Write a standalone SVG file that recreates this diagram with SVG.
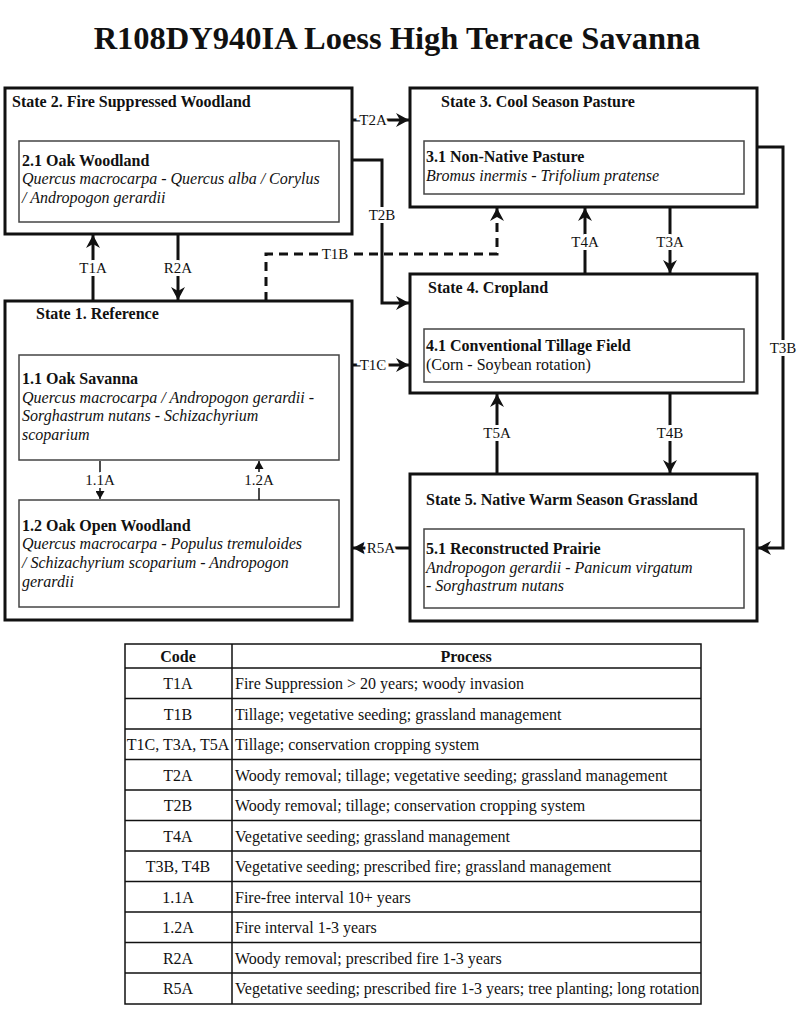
<svg xmlns="http://www.w3.org/2000/svg" width="800" height="1016" viewBox="0 0 800 1016" font-family="'Liberation Serif', 'Times New Roman', serif">
<style>
text{font-family:'Liberation Serif','Times New Roman',serif;fill:#111}
.title{font-size:32.5px;font-weight:bold}
.st{font-size:16px;font-weight:bold}
.ph{font-size:16px;font-weight:bold}
.sp{font-size:16px;font-style:italic}
.nm{font-size:16px}
.outer{fill:#fff;stroke:#111;stroke-width:3}
.inner{fill:#fff;stroke:#444;stroke-width:1.5}
.conn{fill:none;stroke:#111;stroke-width:3}
.dash{stroke-dasharray:9,6}
.thin{fill:none;stroke:#111;stroke-width:1.5}
.lbl{font-size:15px;text-anchor:middle;stroke:#fff;stroke-width:6;paint-order:stroke;fill:#111}
.tb{font-size:16px}
.tbh{font-size:16px;font-weight:bold;text-anchor:middle}
.tc{text-anchor:middle}
.grid{fill:none;stroke:#111;stroke-width:1.5}
</style>
<defs>
<marker id="ah" markerUnits="userSpaceOnUse" markerWidth="14" markerHeight="14" refX="13" refY="7" orient="auto">
<path d="M0,0 L13,7 L0,14 L4,7 z" fill="#111"/>
</marker>
<marker id="as" markerUnits="userSpaceOnUse" markerWidth="9" markerHeight="9" refX="8" refY="4.5" orient="auto">
<path d="M0,0 L8,4.5 L0,9 z" fill="#111"/>
</marker>
</defs>
<rect width="800" height="1016" fill="#fff"/>
<text class="title" x="397" y="49" text-anchor="middle">R108DY940IA Loess High Terrace Savanna</text>

<g id="connectors">
<path class="conn" d="M352,120 H409" marker-end="url(#ah)"/>
<path class="conn" d="M352,160 H382 V303 H409" marker-end="url(#ah)"/>
<path class="conn" d="M93,301 V235" marker-end="url(#ah)"/>
<path class="conn" d="M178,234 V300" marker-end="url(#ah)"/>
<path class="conn dash" d="M266,301 V254 H497 V208" marker-end="url(#ah)"/>
<path class="conn" d="M585,274 V208" marker-end="url(#ah)"/>
<path class="conn" d="M670,207 V273" marker-end="url(#ah)"/>
<path class="conn" d="M757,147 H783 V548 H758" marker-end="url(#ah)"/>
<path class="conn" d="M352,365 H409" marker-end="url(#ah)"/>
<path class="conn" d="M497,474 V394" marker-end="url(#ah)"/>
<path class="conn" d="M670,393 V473" marker-end="url(#ah)"/>
<path class="conn" d="M410,548 H353" marker-end="url(#ah)"/>
<text class="lbl" x="373" y="125">T2A</text>
<text class="lbl" x="382" y="220">T2B</text>
<text class="lbl" x="93" y="273">T1A</text>
<text class="lbl" x="178" y="273">R2A</text>
<text class="lbl" x="335" y="259">T1B</text>
<text class="lbl" x="585" y="247">T4A</text>
<text class="lbl" x="670" y="247">T3A</text>
<text class="lbl" x="783" y="353">T3B</text>
<text class="lbl" x="373" y="370">T1C</text>
<text class="lbl" x="497" y="438">T5A</text>
<text class="lbl" x="670" y="438">T4B</text>
<text class="lbl" x="381" y="553">R5A</text>
</g>

<g id="state2">
<rect class="outer" x="5" y="88" width="347" height="146"/>
<text class="st" x="12" y="107">State 2. Fire Suppressed Woodland</text>
<g id="phase2-1">
<rect class="inner" x="19" y="141" width="320" height="81"/>
<text class="ph" x="22" y="166">2.1 Oak Woodland</text>
<text class="sp" x="22" y="184">Quercus macrocarpa - Quercus alba / Corylus</text>
<text class="sp" x="22" y="203">/ Andropogon gerardii</text>
</g>
</g>

<g id="state3">
<rect class="outer" x="410" y="88" width="347" height="119"/>
<text class="st" x="441" y="107">State 3. Cool Season Pasture</text>
<g id="phase3-1">
<rect class="inner" x="424" y="141" width="320" height="53"/>
<text class="ph" x="426" y="162">3.1 Non-Native Pasture</text>
<text class="sp" x="426" y="181">Bromus inermis - Trifolium pratense</text>
</g>
</g>

<g id="state4">
<rect class="outer" x="410" y="274" width="347" height="119"/>
<text class="st" x="428" y="293">State 4. Cropland</text>
<g id="phase4-1">
<rect class="inner" x="424" y="329" width="320" height="53"/>
<text class="ph" x="426" y="351">4.1 Conventional Tillage Field</text>
<text class="nm" x="426" y="370">(Corn - Soybean rotation)</text>
</g>
</g>

<g id="state5">
<rect class="outer" x="410" y="474" width="347" height="147"/>
<text class="st" x="426" y="505">State 5. Native Warm Season Grassland</text>
<g id="phase5-1">
<rect class="inner" x="424" y="529" width="320" height="79"/>
<text class="ph" x="426" y="554">5.1 Reconstructed Prairie</text>
<text class="sp" x="426" y="573">Andropogon gerardii - Panicum virgatum</text>
<text class="sp" x="426" y="591">- Sorghastrum nutans</text>
</g>
</g>

<g id="state1">
<rect class="outer" x="5" y="301" width="347" height="319"/>
<text class="st" x="36" y="319">State 1. Reference</text>
<g id="phase1-1">
<rect class="inner" x="19" y="355" width="320" height="105"/>
<text class="ph" x="22" y="384">1.1 Oak Savanna</text>
<text class="sp" x="22" y="403">Quercus macrocarpa / Andropogon gerardii -</text>
<text class="sp" x="22" y="421">Sorghastrum nutans - Schizachyrium</text>
<text class="sp" x="22" y="440">scoparium</text>
</g>
<g id="phase1-2">
<rect class="inner" x="19" y="500" width="320" height="107"/>
<text class="ph" x="22" y="531">1.2 Oak Open Woodland</text>
<text class="sp" x="22" y="549">Quercus macrocarpa - Populus tremuloides</text>
<text class="sp" x="22" y="568">/ Schizachyrium scoparium -  Andropogon</text>
<text class="sp" x="22" y="587">gerardii</text>
</g>
<g id="pathways1">
<path class="thin" d="M100,461 V499" marker-end="url(#as)"/>
<path class="thin" d="M259,500 V461" marker-end="url(#as)"/>
<text class="lbl" x="100" y="485">1.1A</text>
<text class="lbl" x="259" y="485">1.2A</text>
</g>
</g>

<g id="legend-table">
<rect class="grid" x="125" y="644" width="576" height="360"/>
<path class="grid" d="M232,644 V1004 M125,668 H701 M125,698.5 H701 M125,729 H701 M125,759.5 H701 M125,790 H701 M125,820.5 H701 M125,851 H701 M125,881.5 H701 M125,912 H701 M125,942.5 H701 M125,973 H701"/>
<text class="tbh" x="178" y="662">Code</text>
<text class="tbh" x="466" y="662">Process</text>
<g class="tb">
<text class="tb tc" x="178" y="689">T1A</text><text class="tb" x="235" y="689">Fire Suppression &gt; 20 years; woody invasion</text>
<text class="tb tc" x="178" y="719.5">T1B</text><text class="tb" x="235" y="719.5">Tillage; vegetative seeding; grassland management</text>
<text class="tb tc" x="178" y="750">T1C, T3A, T5A</text><text class="tb" x="235" y="750">Tillage; conservation cropping system</text>
<text class="tb tc" x="178" y="780.5">T2A</text><text class="tb" x="235" y="780.5">Woody removal; tillage; vegetative seeding; grassland management</text>
<text class="tb tc" x="178" y="811">T2B</text><text class="tb" x="235" y="811">Woody removal; tillage; conservation cropping system</text>
<text class="tb tc" x="178" y="841.5">T4A</text><text class="tb" x="235" y="841.5">Vegetative seeding; grassland management</text>
<text class="tb tc" x="178" y="872">T3B, T4B</text><text class="tb" x="235" y="872">Vegetative seeding; prescribed fire; grassland management</text>
<text class="tb tc" x="178" y="902.5">1.1A</text><text class="tb" x="235" y="902.5">Fire-free interval 10+ years</text>
<text class="tb tc" x="178" y="933">1.2A</text><text class="tb" x="235" y="933">Fire interval 1-3 years</text>
<text class="tb tc" x="178" y="963.5">R2A</text><text class="tb" x="235" y="963.5">Woody removal; prescribed fire 1-3 years</text>
<text class="tb tc" x="178" y="994">R5A</text><text class="tb" x="235" y="994">Vegetative seeding; prescribed fire 1-3 years; tree planting; long rotation</text>
</g>
</g>
</svg>
